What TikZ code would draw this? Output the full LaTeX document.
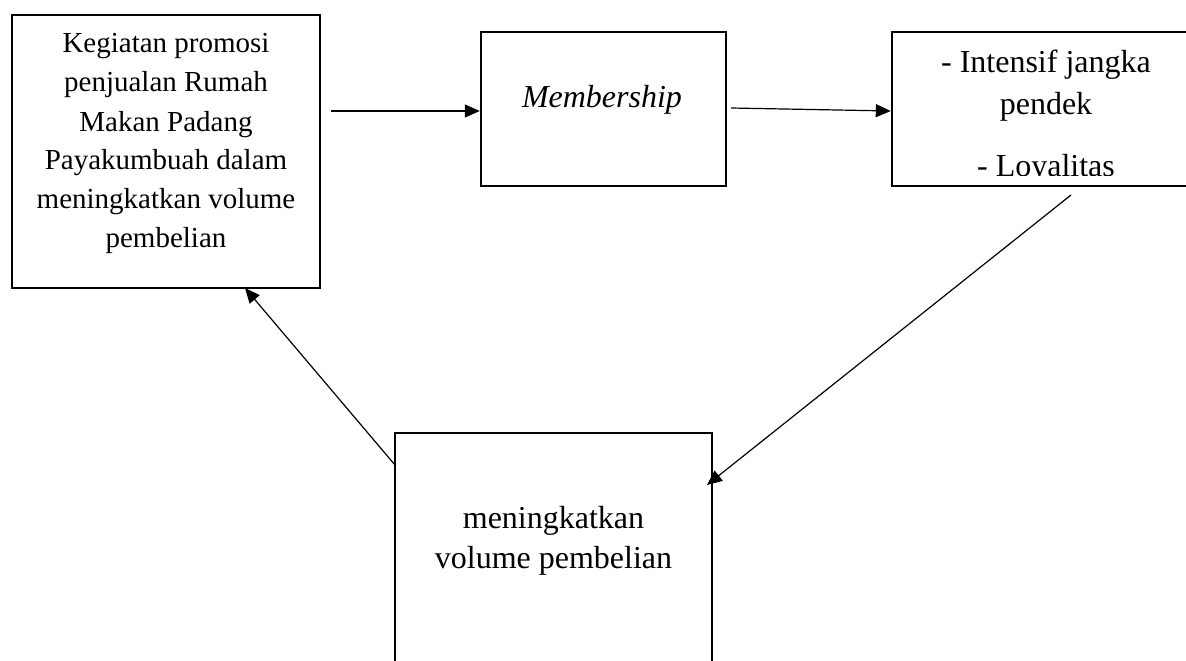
\documentclass[tikz,border=0pt]{standalone}
\usepackage{fontspec}
\setmainfont{Liberation Serif}
\usetikzlibrary{arrows.meta}
\begin{document}
\begin{tikzpicture}[x=1pt,y=-1pt,
  box/.style={draw, line width=2.4pt, inner sep=0pt},
  txt/.style={inner sep=0pt, anchor=base, font=\fontsize{29}{39}\selectfont},
  bigtxt/.style={txt, font=\fontsize{32}{40}\selectfont},
  link/.style={line width=1.2pt, -{Triangle[length=15pt,width=13pt]}}]
\useasboundingbox (0,0) rectangle (1186,661);
\clip (0,0) rectangle (1186,661);

% boxes
\node[box, minimum width=308pt, minimum height=273pt] (A) at (166,151.5) {};
\node[box, minimum width=245pt, minimum height=154pt] (B) at (603.5,109) {};
\node[box, minimum width=308pt, minimum height=154pt] (C) at (1046,109) {};
\node[box, minimum width=317pt, minimum height=287pt] (D) at (553.5,576.5) {};

% texts
\node[txt] (tA) at (166,53) {\parbox[t]{300pt}{\centering Kegiatan promosi\\ penjualan Rumah\\ Makan Padang\\ Payakumbuah dalam\\ meningkatkan volume\\ pembelian}};
\node[bigtxt] (tB) at (602,107) {\textit{Membership}};
\begin{scope}
  % the last line of this box is cut off just above its lower border
  \clip (C.north west) rectangle ([yshift=12pt]C.south east);
  \node[bigtxt] (tC) at (1046,73) {\parbox[t]{300pt}{\fontsize{32}{42}\selectfont\centering - Intensif jangka\\ pendek\\[20pt] - Loyalitas}};
\end{scope}
\node[bigtxt] (tD) at (553.5,528) {\parbox[t]{310pt}{\centering meningkatkan\\ volume pembelian}};

% connectors
\coordinate (a1) at (331,111);
\draw[link] (a1) -- (a1 -| B.west);
\coordinate (b1) at (731,108);
\draw[link] (b1) -- ([yshift=-2pt]C.west);
\coordinate (c1) at (1071,195);
\coordinate (d1) at (707,485);
\draw[link] (c1) -- (d1);
\coordinate (d2) at (395,465);
\coordinate (a2) at (245,288);
\draw[link] (d2) -- (a2);
\end{tikzpicture}
\end{document}
